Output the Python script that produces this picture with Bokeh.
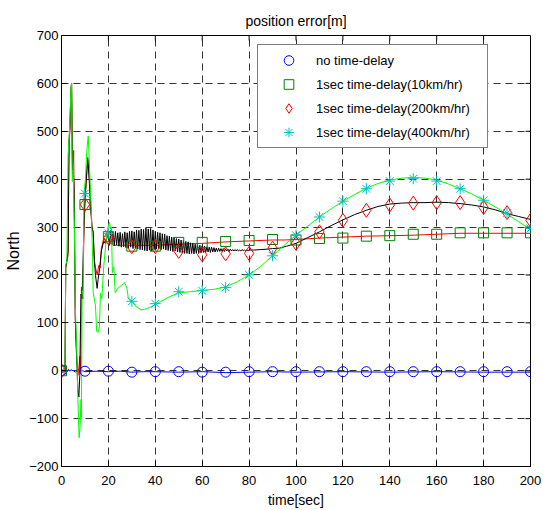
import numpy as np
from bokeh.plotting import figure
from bokeh.models import Range1d, FixedTicker, Legend, LegendItem
from bokeh.embed import file_html
from bokeh.resources import INLINE

FONT = "Liberation Sans"

# ---- data ----
marker_t = list(range(0, 201, 10))
circle_v = [0, -1, -1, -3, -2, -2, -3, -3, -2, -2, -2, -2, -2, -2, -2, -2, -2, -2, -2, -2, -2]
square_v = [0, 347, 280, 260, 260, 268, 268, 270, 272, 274, 273, 276, 277, 281, 282, 285, 285, 288, 288, 288, 288]
diamond_v = [0, 347, 278, 259, 259, 249, 242, 244, 245, 256, 266, 290, 314, 335, 346, 350, 351, 351, 341, 330, 314]
star_v = [0, 370, 287, 145, 140, 165, 167, 174, 200, 240, 283, 321, 354, 380, 396, 401, 396, 380, 356, 329, 297]

blue_t = [0, 0.5, 1, 1.5, 2, 2.5, 3, 3.5, 4, 5, 6, 7, 8, 9, 10, 15, 20, 25, 30, 35, 40, 50, 60,
          70, 80, 90, 100, 120, 140, 160, 180, 200]
blue_v = [0, -4, 2, -3, 1, -2, 3, -1, 2, 0, -3, 2, -1, 0, -2, -1, -2, -1, -3, -2, -2, -3, -2,
          -4, -3, -2, -3, -2, -3, -2, -3, -3]

red_t = [0, 1, 1.5, 1.8, 2.4, 2.8, 3.2, 3.6, 4.0, 4.3, 4.7, 5.2, 5.5, 5.9, 6.4, 7.0, 7.5, 7.8, 8.2,
         8.5, 9.1, 9.6, 10.0, 10.5, 11.2, 11.8, 12.4, 13.0, 13.5, 14.0, 14.5, 15.2, 15.9, 16.5, 17.0,
         18.0, 18.8, 19.5, 20.5, 22, 25, 30, 40, 50, 60, 70, 80, 90, 95, 100, 110, 120, 130, 140,
         150, 160, 170, 180, 190, 200]
red_v = [0, 0, 5, 215, 230, 240, 470, 500, 590, 600, 420, 460, 300, 110, 40, -10, 10, 30, 0,
         175, 150, 300, 345, 390, 440, 410, 360, 300, 290, 230, 215, 200, 220, 215, 255,
         276, 270, 282, 268, 262, 262, 262, 262, 264, 266, 269, 271, 273, 273, 274, 277, 279, 281, 282,
         283, 285, 287, 287, 287, 287]

black_t_early = [0, 1, 1.5, 1.8, 2.4, 2.8, 3.2, 3.6, 4.0, 4.3, 4.7, 5.0, 5.4, 5.9, 6.5, 7.0, 7.4, 7.8,
                 8.3, 8.8, 9.3, 9.8, 10.3, 10.8, 11.2, 11.8, 12.4, 13.0, 13.5, 14.0, 14.5, 15.2, 15.6,
                 16.3, 17.0, 18.0, 18.8, 19.5]
black_v_early = [0, 0, 3, 215, 235, 250, 480, 510, 580, 600, 400, 420, 380, 106, 20, -40, -55, -10,
                 160, 150, 250, 340, 380, 420, 445, 400, 340, 300, 289, 230, 199, 172, 190,
                 215, 250, 270, 265, 285]
black_t_band = list(np.arange(20.0, 80.01, 0.5))
black_v_band = [285, 262, 293, 264, 290, 261, 291, 263, 288, 260,
                289, 258, 286, 259, 290, 257, 288, 256, 291, 258,
                292, 255, 290, 256, 294, 254, 293, 253, 296, 252,
                295, 251, 298, 250, 296, 252, 297, 250, 294, 253,
                291, 254, 289, 255, 288, 253, 286, 254, 285, 252,
                282, 251, 281, 250, 279, 249, 278, 250, 276, 248,
                275, 247, 273, 246, 272, 245, 270, 245, 269, 244,
                267, 245, 266, 244, 264, 245, 263, 246, 262, 246,
                261, 247, 260, 247, 259, 248, 258, 247, 258, 248,
                257, 248, 256, 249, 256, 249, 255, 249, 255, 249,
                254, 250, 254, 249, 254, 250, 253, 250, 253, 250,
                253, 250, 252, 250, 253, 251, 252, 251, 252, 251,
                252]
black_t_late = [82, 85, 88, 90, 93, 96, 100, 105, 110, 115, 120, 125, 130, 135, 140, 145, 150, 155,
                160, 165, 170, 175, 180, 185, 190, 195, 200]
black_v_late = [252, 253, 254, 255, 256, 260, 266, 278, 290, 303, 315, 326, 335, 343, 348, 350, 351, 351,
                352, 351, 349, 346, 342, 336, 328, 322, 316]

green_t = [0, 1, 1.5, 1.8, 2.3, 2.8, 3.2, 3.6, 4.0, 4.3, 4.6, 5.0, 5.5, 5.9, 6.5, 7.0, 7.5, 7.9, 8.3,
           8.5, 8.8, 9.2, 9.6, 10.2, 10.8, 11.4, 12.0, 12.8, 13.2, 13.5, 14.0, 14.5, 15.0, 15.6, 16.2,
           16.6, 17.2, 18.0, 19.0, 19.6, 20.1, 20.5, 20.9, 21.3, 21.7, 22.3, 22.9, 24.0, 25.5, 27.0,
           28.0, 28.5, 30, 32, 34, 36, 38, 40, 45, 50, 55, 60, 65, 70, 75, 80, 85, 90, 95, 100, 105,
           110, 115, 120, 125, 130, 135, 140, 145, 150, 155, 160, 165, 170, 175, 180, 185, 190, 195, 200]
green_v = [0, 0, 5, 220, 230, 450, 480, 520, 590, 600, 395, 420, 300, 134, 40, -60, -140, -120, -60,
           -100, 160, 170, 370, 400, 460, 490, 420, 318, 250, 163, 150, 135, 82, 80, 92,
           162, 150, 217, 270, 295, 305, 310, 296, 300, 205, 217, 163, 172, 178, 184,
           170, 150, 145, 133, 127, 129, 133, 138, 152, 163, 165, 168, 170, 175, 186, 200, 218, 240, 262, 283, 302,
           321, 338, 354, 368, 381, 391, 398, 402, 404, 402, 398, 390, 380, 369, 356, 342, 327, 311, 295]

black_t = black_t_early + black_t_band + black_t_late
black_v = black_v_early + black_v_band + black_v_late

x_ticks = list(range(0, 201, 20))
y_ticks = list(range(-200, 701, 100))
x_min, x_max = 0, 200
y_min, y_max = -200, 700

# ---- figure ----
p = figure(width=543, height=510, output_backend="svg", toolbar_location=None,
           x_range=Range1d(x_min, x_max), y_range=Range1d(y_min, y_max),
           min_border_left=61, min_border_right=13, min_border_top=35, min_border_bottom=43,
           title="position error[m]")
p.background_fill_color = "white"
p.border_fill_color = "white"
p.outline_line_color = "black"
p.outline_line_width = 1

p.title.align = "center"
p.title.text_font = FONT
p.title.text_font_style = "normal"
p.title.text_font_size = "14px"
p.title.text_color = "black"
p.title.standoff = 14

for ax, ticks in ((p.xaxis[0], x_ticks), (p.yaxis[0], y_ticks)):
    ax.ticker = FixedTicker(ticks=ticks)
    ax.major_tick_in = 5
    ax.major_tick_out = 0
    ax.minor_tick_in = 0
    ax.minor_tick_out = 0
    ax.axis_line_color = "black"
    ax.major_tick_line_color = "black"
    ax.major_label_text_font = FONT
    ax.major_label_text_color = "black"
    ax.major_label_text_font_size = "13px"
    ax.axis_label_text_font = FONT
    ax.axis_label_text_font_style = "normal"
    ax.axis_label_text_color = "black"
    ax.axis_label_standoff = 4
p.xaxis.major_label_standoff = 9
p.yaxis.major_label_standoff = 3
p.xaxis.axis_label = "time[sec]"
p.yaxis.axis_label = "North"
p.xaxis.axis_label_text_font_size = "14px"
p.yaxis.axis_label_text_font_size = "16px"

# inward ticks on the top and right edges of the box
p.ray(x=x_ticks, y=[y_max] * len(x_ticks), length=5, angle=-np.pi / 2,
      length_units="screen", line_color="black", line_width=1)
p.ray(x=[x_max] * len(y_ticks), y=y_ticks, length=5, angle=np.pi,
      length_units="screen", line_color="black", line_width=1)

p.xgrid.ticker = FixedTicker(ticks=x_ticks)
p.ygrid.ticker = FixedTicker(ticks=y_ticks)
for g in (p.xgrid[0], p.ygrid[0]):
    g.grid_line_color = "#333333"
    g.grid_line_dash = "7 5"
    g.grid_line_width = 1

# ---- lines ----
p.line(blue_t, blue_v, line_color="#0000FF", line_width=1)
p.line(red_t, red_v, line_color="#FF0000", line_width=1)
p.line(black_t, black_v, line_color="#000000", line_width=1)
p.line(green_t, green_v, line_color="#00FF00", line_width=1)

# ---- markers ----
r_c = p.scatter(marker_t, circle_v, marker="circle", size=10, fill_color=None,
                line_color="#0000FF", line_width=1)
r_s = p.scatter(marker_t, square_v, marker="square", size=10, fill_color=None,
                line_color="#008000", line_width=1)
r_d = p.scatter(marker_t, diamond_v, marker="diamond", size=14, fill_color=None,
                line_color="#FF0000", line_width=1)
r_a = p.scatter(marker_t, star_v, marker="asterisk", size=11,
                line_color="#00BFBF", line_width=1)

legend = Legend(items=[
    LegendItem(label="no time-delay", renderers=[r_c]),
    LegendItem(label="1sec time-delay(10km/hr)", renderers=[r_s]),
    LegendItem(label="1sec time-delay(200km/hr)", renderers=[r_d]),
    LegendItem(label="1sec time-delay(400km/hr)", renderers=[r_a]),
], location=(196, 318))
legend.label_text_font = FONT
legend.label_text_font_size = "13px"
legend.label_text_color = "black"
legend.border_line_color = "black"
legend.border_line_width = 1
legend.background_fill_color = "white"
legend.background_fill_alpha = 1
legend.padding = 3
legend.spacing = 0
legend.margin = 0
legend.glyph_width = 55
legend.glyph_height = 24
legend.label_height = 24
legend.label_standoff = 0
legend.label_width = 168
p.add_layout(legend)

open("out.html", "w").write(file_html(p, INLINE))
